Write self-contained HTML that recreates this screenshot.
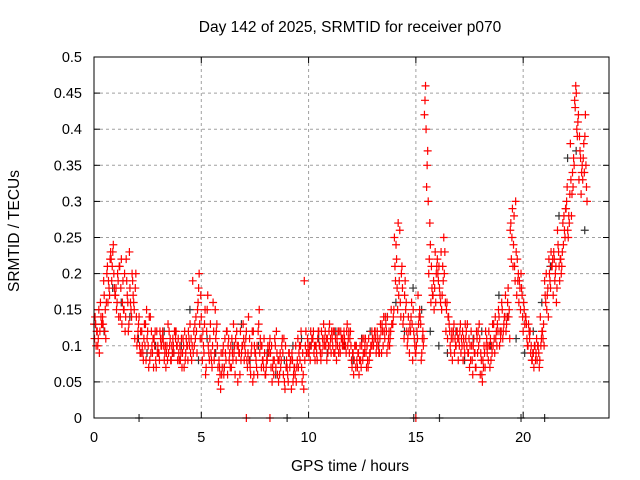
<!DOCTYPE html>
<html><head><meta charset="utf-8"><style>
html,body{margin:0;padding:0;background:#fff;}
svg{display:block;font-family:"Liberation Sans",sans-serif;}
</style></head><body>
<svg id="chart" width="640" height="480" viewBox="0 0 640 480" xmlns="http://www.w3.org/2000/svg">
<text x="350" y="32" font-size="15.5" text-anchor="middle" fill="#000">Day 142 of 2025, SRMTID for receiver p070</text>
<text transform="translate(19,231) rotate(-90)" font-size="15.5" text-anchor="middle" fill="#000">SRMTID / TECUs</text>
<text x="350" y="471" font-size="15.5" text-anchor="middle" fill="#000">GPS time / hours</text>
<g id="grid"></g>
<g id="axes"></g>
<g id="black-series"></g>
<g id="red-series"></g>
<rect x="94" y="57" width="515" height="361" fill="none" stroke="#000" stroke-width="1"/>
</svg>
<script>
const xTicks = [0, 5, 10, 15, 20];
const yTicks = [0, 0.05, 0.1, 0.15, 0.2, 0.25, 0.3, 0.35, 0.4, 0.45, 0.5];
const yTickLabels = ["0","0.05","0.1","0.15","0.2","0.25","0.3","0.35","0.4","0.45","0.5"];
const seriesA = [.13,.11,.14,.20,.22, .17,.21,.15,.12,.19, .10,.09,.13,.08,.11, .09,.12,.10,.08,.11, .10,.07,.12,.19,.09, .14,.06,.11,.08,.05, .09,.12,.07,.11,.06, .08,.14,.05,.10,.07, .06,.11,.08,.05,.09, .07,.04,.10,.08,.19, .09,.11,.08,.12,.10, .10,.12,.09,.11,.13, .08,.07,.10,.09,.11, .10,.12,.09,.13,.11, .25,.17,.13,.10,.16, .09,.14,.42,.20,.17, .22,.15,.12,.10,.09, .11,.08,.13,.10,.07, .06,.09,.12,.10,.13, .16,.12,.26,.21,.16, .12,.10,.08,.09,.14, .19,.22,.17,.26,.21, .29,.38,.44,.33,.36];
const seriesB = [.10,.16,.12,.18,.24, .20,.13,.22,.16,.11, .14,.08,.12,.10,.07, .11,.09,.12,.10,.08, .07,.11,.09,.13,.20, .10,.17,.07,.12,.04, .11,.08,.13,.05,.10, .12,.06,.09,.15,.07, .10,.05,.12,.07,.04, .09,.06,.11,.05,.09, .12,.08,.10,.13,.09, .11,.08,.12,.10,.09, .06,.09,.11,.07,.10, .12,.09,.14,.10,.13, .22,.14,.19,.09,.12, .17,.11,.32,.16,.23, .18,.25,.14,.08,.12, .09,.13,.07,.11,.12, .05,.11,.08,.14,.10, .13,.18,.29,.17,.20, .14,.11,.07,.10,.12, .15,.23,.20,.19,.28, .25,.34,.40,.31,.42];
const seriesC = [.14,.09,.19,.16,.21, .15,.18,.12,.23,.16, .12,.10,.15,.09,.12, .08,.10,.13,.09,.10, .09,.08,.10,.12,.16, .08,.12,.09,.15,.07, .06,.10,.09,.12,.08, .09,.11,.06,.12,.08, .08,.07,.10,.06,.11, .05,.08,.07,.12,.10, .10,.09,.12,.11,.08, .09,.11,.10,.12,.11, .09,.08,.07,.11,.09, .11,.10,.12,.09,.15, .19,.26,.11,.14,.08, .12,.08,.46,.27,.15, .19,.21,.16,.11,.10, .12,.10,.09,.06,.11, .08,.12,.07,.11,.15, .11,.14,.22,.30,.18, .15,.13,.09,.08,.11, .16,.19,.22,.23,.27, .32,.28,.46,.37,.34];
const seriesD = [.12,.13,.11,.22,.18, .14,.19,.17,.14,.20, .09,.13,.07,.11,.09, .10,.07,.11,.12,.09, .11,.10,.08,.14,.11, .13,.09,.16,.10,.06, .08,.07,.10,.09,.13, .07,.10,.08,.11,.09, .09,.08,.06,.10,.07, .08,.07,.09,.06,.11, .11,.10,.09,.10,.12, .12,.10,.11,.09,.12, .10,.06,.09,.08,.12, .09,.13,.11,.12,.14, .15,.21,.16,.12,.10, .14,.10,.37,.18,.20, .16,.23,.13,.12,.11, .10,.12,.08,.09,.13, .07,.10,.09,.12,.11, .14,.15,.24,.19,.17, .13,.09,.10,.07,.13, .18,.21,.16,.22,.25, .27,.36,.41,.35,.32];
const seriesE = [.11,.15,.13,.21,.19, .18,.14,.20,.13,.17, .11,.12,.08,.14,.10, .09,.11,.08,.10,.12, .08,.12,.11,.09,.15, .11,.07,.13,.09,.08, .10,.06,.11,.08,.12, .10,.08,.12,.06,.10, .07,.09,.11,.08,.06, .06,.09,.05,.10,.08, .09,.12,.11,.09,.11, .11,.09,.12,.10,.10, .07,.10,.08,.10,.08, .10,.11,.13,.12,.12, .21,.19,.14,.11,.13, .10,.13,.44,.22,.19, .20,.17,.15,.09,.11, .10,.11,.09,.08,.12, .09,.07,.10,.13,.12, .15,.13,.27,.19,.19, .16,.10,.08,.11,.10, .17,.20,.23,.24,.23, .30,.33,.43,.39,.38];
const seriesF = [.13,.12,.17,.19,.23, .16,.22,.14,.18,.15, .13,.09,.11,.12,.08, .12,.08,.09,.11,.10, .11,.09,.13,.10,.18, .12,.15,.08,.11,.06, .07,.11,.08,.10,.09, .11,.07,.10,.13,.08, .08,.10,.07,.09,.05, .09,.05,.08,.07,.12, .08,.10,.12,.10,.11, .12,.10,.09,.11,.12, .09,.07,.10,.09,.09, .12,.09,.10,.14,.13, .24,.16,.17,.12,.15, .11,.09,.40,.24,.18, .21,.19,.11,.12,.10, .13,.09,.11,.10,.09, .06,.10,.11,.09,.14, .12,.16,.25,.23,.15, .13,.12,.09,.10,.12, .20,.18,.19,.21,.24, .26,.31,.45,.36,.39];
const seriesG = [.12,.14,.15,.17,.20, .19,.16,.19,.15,.18, .10,.11,.10,.09,.12, .10,.10,.10,.09,.11, .09,.10,.11,.11,.13, .09,.10,.10,.13,.09, .09,.09,.09,.10,.10, .08,.09,.09,.09,.11, .09,.07,.09,.08,.10, .07,.07,.07,.09,.09, .10,.10,.10,.11,.10, .10,.11,.11,.10,.11, .08,.09,.08,.10,.10, .11,.11,.12,.11,.13, .18,.20,.15,.13,.11, .13,.12,.35,.21,.16, .17,.20,.14,.11,.12, .11,.11,.10,.09,.10, .08,.09,.10,.11,.12, .14,.14,.21,.22,.18, .14,.12,.10,.09,.11, .17,.21,.21,.22,.26, .28,.32,.39,.34,.35];
const seriesH = [.10,.13,.16,.23,.17, .21,.15,.16,.20,.14, .12,.10,.14,.07,.10, .11,.09,.08,.12,.08, .10,.08,.10,.12,.17, .15,.08,.12,.07,.07, .12,.10,.06,.09,.11, .09,.12,.07,.10,.06, .10,.06,.08,.11,.08, .08,.06,.10,.04,.10, .11,.09,.08,.12,.13, .09,.12,.10,.12,.10, .10,.08,.11,.07,.11, .10,.12,.14,.10,.15, .27,.18,.12,.14,.09, .15,.11,.30,.17,.21, .23,.16,.12,.13,.08, .12,.10,.12,.07,.11, .10,.08,.13,.10,.12, .17,.11,.28,.20,.14, .11,.10,.08,.08,.10, .14,.22,.18,.20,.29, .31,.35,.42,.33,.30];
const seriesBlack = [.13,.12,.18,.16,.14, .11,.09,.10,.12,.09, .10,.15,.08,.11,.09, .07,.10,.13,.08,.10, .09,.06,.08,.10,.11, .10,.11,.09,.12,.10, .08,.11,.12,.10,.14, .16,.12,.18,.15,.12, .10,.09,.12,.08,.11, .12,.10,.17,.14,.11, .09,.12,.16,.21,.28, .36,.37,.26];
const zeroRedTimes = [7.1, 8.2, 15.0];
const zeroBlackTimes = [2.1, 9.0, 14.9, 16.1, 19.9, 21.0];

const X0 = 94, X1 = 609, Y0 = 418, Y1 = 57;
const xScale = v => X0 + v / 24 * (X1 - X0);
const yScale = v => Y0 - v / 0.5 * (Y0 - Y1);
const NS = "http://www.w3.org/2000/svg";
const mk = (tag, attrs, parent) => { const e = document.createElementNS(NS, tag); for (const k in attrs) e.setAttribute(k, attrs[k]); parent.appendChild(e); return e; };
const grid = document.getElementById('grid'), axes = document.getElementById('axes');

yTicks.forEach((v, i) => {
  const y = yScale(v);
  if (i > 0 && i < yTicks.length - 1) {
    const g = mk('line', {x1: X0, x2: X1, y1: y, y2: y, stroke: '#a0a0a0', 'stroke-dasharray': '3,3'}, grid);
    
    
  }
  const t1 = mk('line', {x1: X0, x2: X0 + 6, y1: y, y2: y, stroke: '#000'}, axes);
  
  
  const t2 = mk('line', {x1: X1 - 6, x2: X1, y1: y, y2: y, stroke: '#000'}, axes);
  
  
  const lb = mk('text', {x: X0 - 12, y: y + 5, 'font-size': 14.5, 'text-anchor': 'end'}, axes);
  lb.textContent = yTickLabels[i];
  
  
});
xTicks.forEach(v => {
  const x = xScale(v);
  if (v > 0) {
    const g = mk('line', {x1: x, x2: x, y1: Y1, y2: Y0, stroke: '#a0a0a0', 'stroke-dasharray': '3,3'}, grid);
    
    
  }
  const t1 = mk('line', {x1: x, x2: x, y1: Y0, y2: Y0 - 6, stroke: '#000'}, axes);
  
  
  const t2 = mk('line', {x1: x, x2: x, y1: Y1, y2: Y1 + 6, stroke: '#000'}, axes);
  
  
  const lb = mk('text', {x: x, y: Y0 + 24, 'font-size': 14.5, 'text-anchor': 'middle'}, axes);
  lb.textContent = String(v);
  
  
});

function plus(parent, t, v, color, name) {
  const x = xScale(t), y = yScale(v);
  const p = mk('path', {d: `M${x-4},${y}H${x+4}M${x},${y-4}V${y+4}`, stroke: color, 'stroke-width': 1.2, fill: 'none'}, parent);
  
  
}
const blackG = document.getElementById('black-series'), redG = document.getElementById('red-series');
seriesBlack.forEach((v, i) => plus(blackG, 0.07 + i * 0.4, v, '#333', 'black-point'));
zeroBlackTimes.forEach(t => plus(blackG, t, 0, '#333', 'black-zero-point'));
[[seriesA, 0], [seriesE, 0.025], [seriesC, 0.05], [seriesF, 0.075], [seriesB, 0.1], [seriesG, 0.125], [seriesD, 0.15], [seriesH, 0.175]].forEach(([arr, off]) => {
  arr.forEach((v, i) => plus(redG, off + i * 0.2, v, '#ff0000', 'red-point'));
});
zeroRedTimes.forEach(t => plus(redG, t, 0, '#ff0000', 'red-zero-point'));
</script>
</body></html>
